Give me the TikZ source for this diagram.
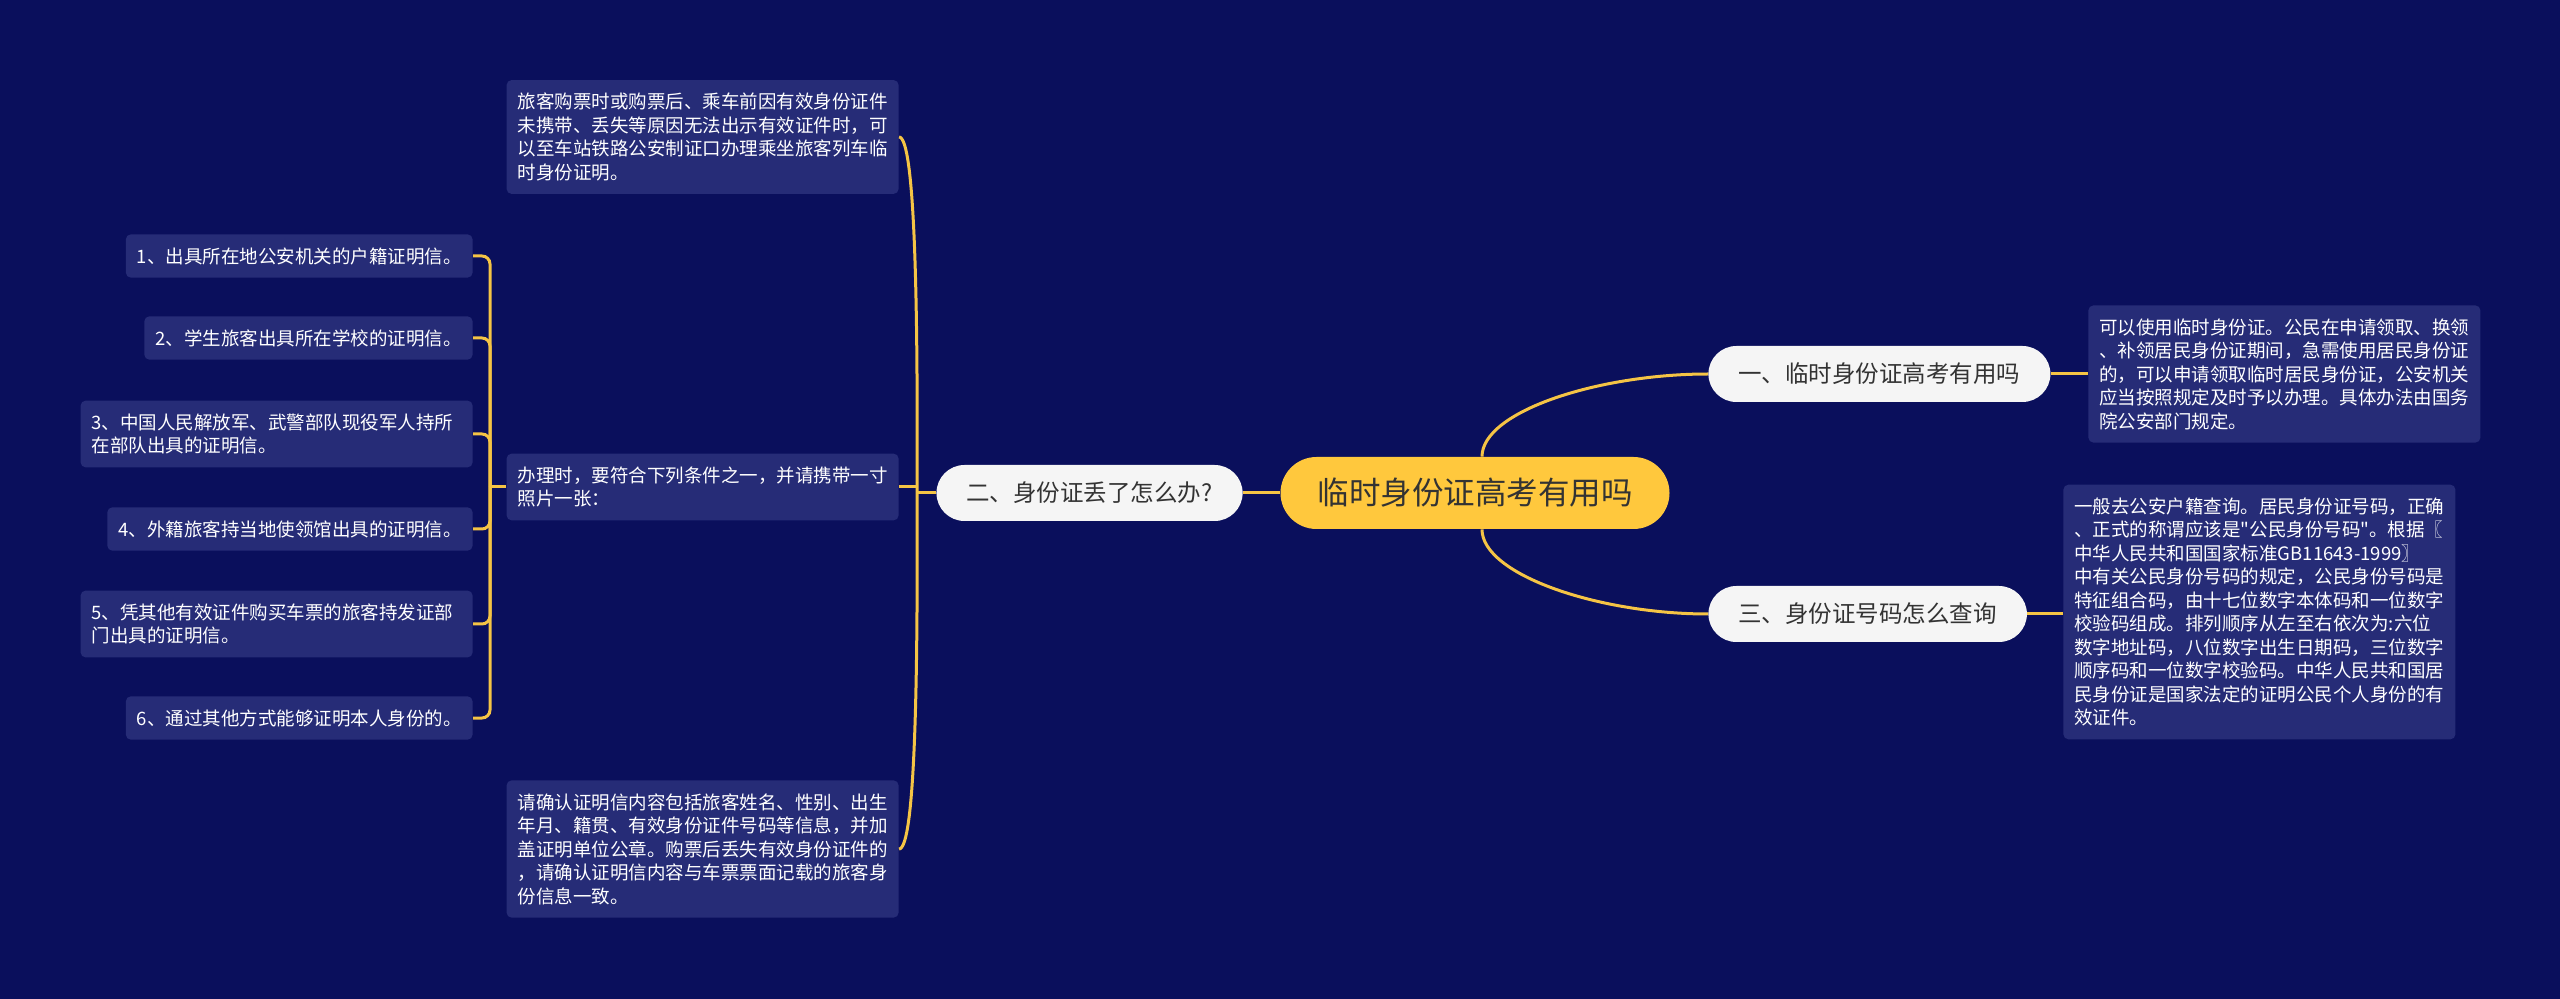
\documentclass[tikz,border=0pt]{standalone}
\usepackage{fontspec}
\newfontfamily\cjk{Noto Sans CJK SC}
\usetikzlibrary{calc}
\definecolor{bg}{HTML}{0A0F5C}
\definecolor{leafc}{HTML}{262C77}
\definecolor{linec}{HTML}{F5C445}
\definecolor{rootc}{HTML}{FFC83D}
\definecolor{branchc}{HTML}{F5F5F5}
\definecolor{darktext}{HTML}{333333}
\begin{document}
\begin{tikzpicture}[x=0.5pt,y=-0.5pt,
 leaf/.style={fill=leafc, rounded corners=2.5pt, text=white, align=left, font=\cjk\fontsize{9.25pt}{11.75pt}\selectfont, inner xsep=5.5pt, inner ysep=6.5pt},
 wideleaf/.style={leaf, text width=185pt},
 branch/.style={fill=branchc, rounded corners=14pt, text=darktext, font=\cjk\fontsize{11.75pt}{14pt}\selectfont, minimum height=28pt, inner xsep=15pt, inner ysep=0pt},
 root/.style={fill=rootc, rounded corners=18pt, text=darktext, font=\cjk\fontsize{15.75pt}{18pt}\selectfont, minimum height=36pt, inner xsep=18.5pt, inner ysep=0pt},
 conn/.style={draw=linec, line width=1.5pt},
 hook/.style={conn, rounded corners=4pt}]
\fill[bg] (0,0) rectangle (2560,999);
\useasboundingbox (0,0) rectangle (2560,999);

% root and branches
\node[root] (root) at (1475,493) {临时身份证高考有用吗};
\node[branch, anchor=east] (b2) at (1243,493) {二、身份证丢了怎么办?};
\node[branch, anchor=west] (b1) at (1708,374) {一、临时身份证高考有用吗};
\node[branch, anchor=west] (b3) at (1708,614) {三、身份证号码怎么查询};

% right leaves
\node[leaf, anchor=west] (R1) at (2088,374) {可以使用临时身份证。公民在申请领取、换领\\、补领居民身份证期间，急需使用居民身份证\\的，可以申请领取临时居民身份证，公安机关\\应当按照规定及时予以办理。具体办法由国务\\院公安部门规定。};
\node[leaf, anchor=west] (R2) at (2063,612) {一般去公安户籍查询。居民身份证号码，正确\\、正式的称谓应该是"公民身份号码"。根据〖\\中华人民共和国国家标准GB11643-1999〗\\中有关公民身份号码的规定，公民身份号码是\\特征组合码，由十七位数字本体码和一位数字\\校验码组成。排列顺序从左至右依次为:六位\\数字地址码，八位数字出生日期码，三位数字\\顺序码和一位数字校验码。中华人民共和国居\\民身份证是国家法定的证明公民个人身份的有\\效证件。};

% left leaves
\node[leaf, anchor=east] (L1) at (899,137) {旅客购票时或购票后、乘车前因有效身份证件\\未携带、丢失等原因无法出示有效证件时，可\\以至车站铁路公安制证口办理乘坐旅客列车临\\时身份证明。};
\node[leaf, anchor=east] (L2) at (899,487) {办理时，要符合下列条件之一，并请携带一寸\\照片一张：};
\node[leaf, anchor=east] (L3) at (899,849) {请确认证明信内容包括旅客姓名、性别、出生\\年月、籍贯、有效身份证件号码等信息，并加\\盖证明单位公章。购票后丢失有效身份证件的\\，请确认证明信内容与车票票面记载的旅客身\\份信息一致。};

% items
\node[leaf, anchor=east] (I1) at (473,256) {1、出具所在地公安机关的户籍证明信。};
\node[leaf, anchor=east] (I2) at (473,338) {2、学生旅客出具所在学校的证明信。};
\node[wideleaf, anchor=east] (I3) at (473,434) {3、中国人民解放军、武警部队现役军人持所\\在部队出具的证明信。};
\node[leaf, anchor=east] (I4) at (473,529) {4、外籍旅客持当地使领馆出具的证明信。};
\node[wideleaf, anchor=east] (I5) at (473,624) {5、凭其他有效证件购买车票的旅客持发证部\\门出具的证明信。};
\node[leaf, anchor=east] (I6) at (473,718) {6、通过其他方式能够证明本人身份的。};

% connectors: root
\coordinate (rt) at ($(root.north)+(7,0)$);
\coordinate (rb) at ($(root.south)+(7,0)$);
\draw[conn] (root.west) -- (b2.east);
\draw[conn] (rt) .. controls ($(rt)+(0,-45)$) and ($(b1.west)+(-110,0)$) .. (b1.west);
\draw[conn] (rb) .. controls ($(rb)+(0,45)$) and ($(b3.west)+(-110,0)$) .. (b3.west);
\draw[conn] (b1.east) -- (R1.west);
\draw[conn] (b3.east) -- (R2.west |- b3.east);

% connectors: branch 2
\coordinate (hubA) at (917,493);
\draw[conn] (b2.west) -- (hubA);
\draw[conn] (L2.east) -- (hubA |- L2.east);
\draw[conn] (L1.east) .. controls ($(L1.east)+(16,0)$) and ($(hubA)+(1,-190)$) .. (hubA);
\draw[conn] (L3.east) .. controls ($(L3.east)+(16,0)$) and ($(hubA)+(1,190)$) .. (hubA);

% connectors: items
\coordinate (hubB) at (490,487);
\draw[conn] (L2.west) -- (hubB);
\foreach \n in {I1,I2,I3,I4,I5,I6}
  \draw[hook] (hubB) |- (\n.east);
\end{tikzpicture}
\end{document}
